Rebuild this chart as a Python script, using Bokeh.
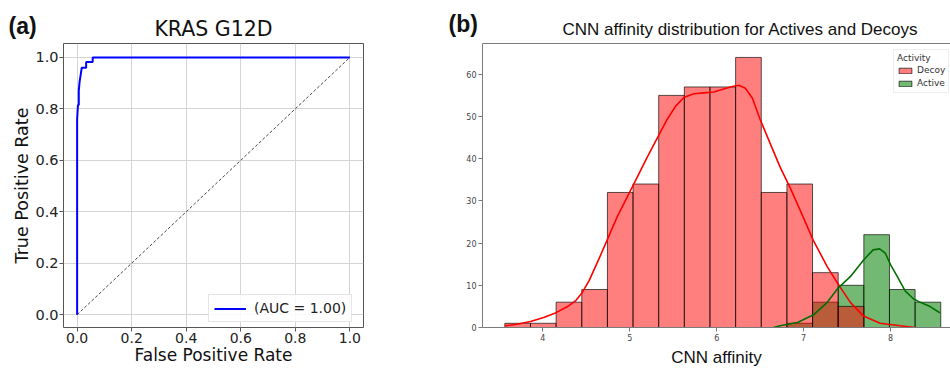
import math
from bokeh.plotting import figure
from bokeh.layouts import row, column
from bokeh.models import (Range1d, FixedTicker, Legend, LegendItem, LinearAxis,
                          NumeralTickFormatter)
from bokeh.core.properties import value
from bokeh.embed import file_html
from bokeh.resources import INLINE

# ---------------- Panel (a): ROC curve ----------------
roc_fpr = [0.0, 0.0, 0.003, 0.006, 0.006, 0.009, 0.017, 0.033, 0.033, 0.057, 0.057, 1.0]
roc_tpr = [0.0, 0.76, 0.815, 0.815, 0.87, 0.905, 0.96, 0.96, 0.982, 0.982, 1.0, 1.0]
diag_x = [0.0, 1.0]
diag_y = [0.0, 1.0]
roc_ticks = [0.0, 0.2, 0.4, 0.6, 0.8, 1.0]
roc_label = "(AUC = 1.00)"

# ---------------- Panel (b): histogram + KDE ----------------
bin_edges = [3.563, 3.858, 4.153, 4.448, 4.743, 5.038, 5.333, 5.628, 5.923, 6.218,
             6.513, 6.808, 7.103, 7.398, 7.693, 7.988, 8.283, 8.578]
decoy_counts = [1, 1, 6, 9, 32, 34, 55, 57, 57, 64, 32, 34, 13, 5, 0, 0, 0]
active_counts = [0, 0, 0, 0, 0, 0, 0, 0, 0, 0, 0, 1, 6, 10, 22, 9, 6]

decoy_kde_x = [3.563, 3.705, 3.858, 4.01, 4.153, 4.28, 4.375, 4.45, 4.53, 4.625, 4.74,
               4.855, 4.97, 5.085, 5.2, 5.33, 5.43, 5.526, 5.622, 5.737, 5.852, 5.967,
               6.08, 6.18, 6.255, 6.33, 6.41, 6.5, 6.62, 6.73, 6.85, 6.96, 7.11, 7.27,
               7.40, 7.54, 7.69, 7.88, 8.11, 8.28]
decoy_kde_y = [0.39, 0.78, 1.41, 2.35, 3.52, 4.9, 6.3, 8.2, 11.0, 15.3, 20.7,
               26.2, 30.9, 35.6, 40.3, 45.4, 49.3, 52.4, 54.5, 55.4, 55.6, 55.8,
               56.5, 57.1, 57.4, 56.7, 54.4, 49.3, 43.4, 38.0, 32.9, 27.8, 20.7, 14.5,
               10.2, 5.9, 2.7, 1.0, 0.4, 0.0]

active_kde_x = [6.655, 6.73, 6.93, 7.12, 7.27, 7.40, 7.54, 7.69, 7.80, 7.874, 7.94,
                8.0, 8.077, 8.17, 8.27, 8.35, 8.46, 8.567]
active_kde_y = [0.0, 0.4, 1.2, 3.1, 5.9, 9.4, 12.1, 16.0, 18.4, 18.63, 17.6,
                14.9, 12.1, 8.6, 6.7, 5.9, 4.9, 3.5]

hist_xticks = [4, 5, 6, 7, 8]
hist_yticks = [0, 10, 20, 30, 40, 50, 60]

panel_tags = ["(a)", "(b)"]
titles = ["KRAS G12D", "CNN affinity distribution for Actives and Decoys"]

HEAD = 41
H = 369 - HEAD

# =============== header strip (panel tags and titles) ===============
head = figure(width=950, height=HEAD, output_backend="svg", toolbar_location=None,
              x_range=Range1d(0, 950), y_range=Range1d(HEAD, 0),
              x_axis_location=None, y_axis_location=None, min_border=0)
head.outline_line_color = None
head.grid.visible = False
head.text(x=[8, 448], y=[25, 23], text=panel_tags, text_font=value("Liberation Sans"),
          text_font_style="bold", text_font_size="23px", text_color="#111111",
          text_align="left", text_baseline="middle")
head.text(x=[213], y=[28.5], text=[titles[0]], text_font=value("DejaVu Sans"),
          text_font_size="20.5px", text_color="#111111",
          text_align="center", text_baseline="middle")
head.text(x=[740], y=[29], text=[titles[1]], text_font=value("Liberation Sans"),
          text_font_size="17px", text_color="#111111",
          text_align="center", text_baseline="middle")

# =============== figure (a) ===============
p1 = figure(width=433, height=H, output_backend="svg", toolbar_location=None,
            x_range=Range1d(-0.05, 1.05), y_range=Range1d(-0.05, 1.054),
            min_border_left=63, min_border_right=70, min_border_top=1, min_border_bottom=38)
p1.outline_line_color = "#555555"
p1.outline_line_width = 1
for ax in (p1.xaxis[0], p1.yaxis[0]):
    ax.ticker = FixedTicker(ticks=roc_ticks)
    ax.formatter = NumeralTickFormatter(format="0.0")
    ax.axis_line_color = None
    ax.major_tick_line_color = "#555555"
    ax.major_tick_in = 0
    ax.major_tick_out = 4
    ax.minor_tick_line_color = None
    ax.major_label_text_font = "DejaVu Sans"
    ax.major_label_text_font_size = "14.5px"
    ax.major_label_text_color = "#222222"
    ax.major_label_standoff = 1
    ax.axis_label_text_font = "DejaVu Sans"
    ax.axis_label_text_font_size = "17.5px"
    ax.axis_label_text_font_style = "normal"
    ax.axis_label_text_color = "#111111"
p1.xaxis[0].axis_label = "False Positive Rate"
p1.xaxis[0].major_label_text_font_size = "14px"
p1.xaxis[0].axis_label_text_font_size = "17px"
p1.xaxis[0].axis_label_standoff = -1
p1.yaxis[0].axis_label = "True Positive Rate"
p1.yaxis[0].axis_label_standoff = 0
p1.grid.grid_line_color = "#d4d4d4"
p1.grid.grid_line_width = 1

p1.line(diag_x, diag_y, line_color="#333333", line_width=0.9, line_dash="3 2")
roc = p1.line(roc_fpr, roc_tpr, line_color="#0000ff", line_width=2)

leg1 = Legend(items=[LegendItem(label=roc_label, renderers=[roc])], location=(145, 5))
leg1.padding = 5
leg1.glyph_width = 32
leg1.glyph_height = 15
leg1.label_height = 15
leg1.label_standoff = 8
leg1.label_text_font = "DejaVu Sans"
leg1.label_text_font_size = "14px"
leg1.label_text_color = "#222222"
leg1.border_line_color = "#cccccc"
leg1.background_fill_alpha = 0.85
p1.add_layout(leg1)

# =============== figure (b) ===============
p2 = figure(width=517, height=H, output_backend="svg", toolbar_location=None,
            x_range=Range1d(3.306, 8.690), y_range=Range1d(0, 67.3),
            min_border_left=49, min_border_right=0, min_border_top=2, min_border_bottom=38)
p2.outline_line_color = None
p2.grid.visible = False
for ax in (p2.xaxis[0], p2.yaxis[0]):
    ax.axis_line_color = "#7a7a7a"
    ax.axis_line_width = 1
    ax.major_tick_line_color = "#7a7a7a"
    ax.major_tick_in = 0
    ax.major_tick_out = 4
    ax.minor_tick_line_color = None
    ax.major_label_text_font = "DejaVu Sans"
    ax.major_label_text_font_size = "8px"
    ax.major_label_text_color = "#444444"
    ax.major_label_standoff = 2
p2.xaxis[0].ticker = FixedTicker(ticks=hist_xticks)
p2.yaxis[0].ticker = FixedTicker(ticks=hist_yticks)
p2.xaxis[0].major_label_standoff = 2
p2.xaxis[0].axis_label = "CNN affinity"
p2.xaxis[0].axis_label_text_font = "Liberation Sans"
p2.xaxis[0].axis_label_text_font_size = "17px"
p2.xaxis[0].axis_label_text_font_style = "normal"
p2.xaxis[0].axis_label_text_color = "#111111"
p2.xaxis[0].axis_label_standoff = 4

top_axis = LinearAxis(ticker=FixedTicker(ticks=[]), axis_line_color="#7a7a7a",
                      major_tick_out=0, major_tick_in=0, minor_tick_out=0, minor_tick_in=0,
                      major_label_text_font_size="0px")
p2.add_layout(top_axis, "above")

lefts = bin_edges[:-1]
rights = bin_edges[1:]
zeros = [0] * len(lefts)

green_q = p2.quad(left=lefts, right=rights, bottom=zeros, top=active_counts,
                  fill_color="#008000", fill_alpha=0.55, line_color="#000000",
                  line_alpha=0.65, line_width=1)
red_q = p2.quad(left=lefts, right=rights, bottom=zeros, top=decoy_counts,
                fill_color="#ff0000", fill_alpha=0.5, line_color="#000000",
                line_alpha=0.65, line_width=1)
p2.line(decoy_kde_x, decoy_kde_y, line_color="#ff0000", line_width=1.6)
p2.line(active_kde_x, active_kde_y, line_color="#007000", line_width=1.6)

leg2 = Legend(items=[LegendItem(label="Decoy", renderers=[red_q]),
                     LegendItem(label="Active", renderers=[green_q])],
              location=(411, 234), title="Activity")
leg2.padding = 3
leg2.spacing = 1
leg2.glyph_width = 16
leg2.glyph_height = 7
leg2.label_height = 12
leg2.label_standoff = 4
leg2.title_standoff = 1
leg2.label_text_font = "DejaVu Sans"
leg2.label_text_font_size = "9px"
leg2.label_text_color = "#333333"
leg2.title_text_font = "DejaVu Sans"
leg2.title_text_font_size = "9px"
leg2.title_text_font_style = "normal"
leg2.title_text_color = "#333333"
leg2.border_line_color = "#dddddd"
leg2.background_fill_alpha = 0.9
p2.add_layout(leg2)

layout = column(head, row(p1, p2))
open("out.html", "w").write(file_html(layout, INLINE))
